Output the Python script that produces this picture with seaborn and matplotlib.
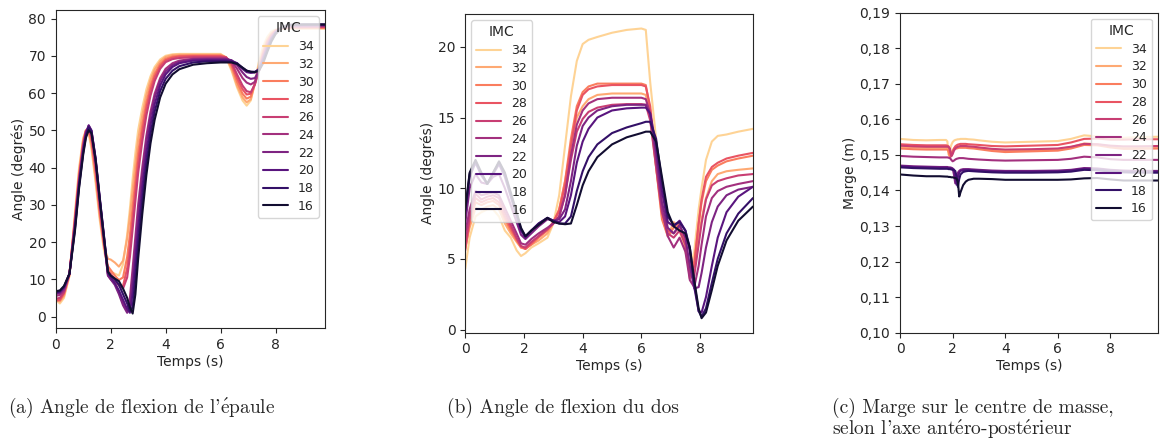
import matplotlib
matplotlib.use("Agg")
import matplotlib.pyplot as plt
from matplotlib.ticker import FuncFormatter, MultipleLocator
import seaborn as sns
import pandas as pd

# ---------------- data ----------------
IMC = ["34", "32", "30", "28", "26", "24", "22", "20", "18", "16"]

# (a) shoulder flexion angle (degrees)
T_A = [0, 0.15, 0.3, 0.5, 0.7, 0.85, 1.0, 1.1, 1.2, 1.3, 1.45, 1.6, 1.75, 1.9, 2.0, 2.15, 2.3, 2.45,
       2.6, 2.7, 2.8, 2.9, 3.0, 3.15, 3.3, 3.45, 3.6, 3.8, 4.0, 4.25, 4.5, 5.0, 5.5, 6.0, 6.2, 6.4,
       6.6, 6.8, 6.95, 7.1, 7.25, 7.4, 7.55, 7.7, 7.85, 8.0, 8.25, 8.5, 9.0, 9.8]
A34 = [4.5, 3.5, 5, 11, 28, 40, 48, 50, 49, 45, 36, 26, 18, 13, 12, 11.5, 11, 14, 22, 29, 37, 44, 50, 56,
       61, 64.5, 67, 69, 70, 70.4, 70.5, 70.5, 70.5, 70.5, 69.5, 66, 61.5, 58, 56.6, 58, 63, 68.5, 72.5,
       75, 76.5, 77, 77.3, 77.3, 77.3, 77.3]
A32 = [4.8, 4, 5.5, 11, 27, 39, 47.5, 50, 49.5, 46, 37, 27, 19, 15.5, 15.3, 14.5, 13.4, 15, 21, 27, 34,
       41, 47.5, 54, 59.5, 63.5, 66.3, 68.5, 69.7, 70.2, 70.3, 70.3, 70.3, 70.3, 69.6, 66.5, 62, 58.8,
       57.5, 58.3, 62.5, 67.5, 71.5, 74.3, 76, 76.8, 77.3, 77.4, 77.4, 77.4]
A30 = [4.5, 4.3, 6, 11.5, 26.5, 38, 47, 50, 50, 47, 38.5, 28, 19.5, 13.5, 12.5, 11, 9.8, 10.5, 16, 22,
       29.5, 37, 44, 51.5, 57.5, 62, 65.2, 67.8, 69.2, 69.8, 70, 70.1, 70.1, 70.1, 69.6, 67.2, 63, 59.8,
       58.5, 59, 62.5, 67, 71, 74, 75.8, 76.8, 77.4, 77.5, 77.5, 77.5]
A28 = [4.2, 4.5, 6.3, 11.5, 26, 37.5, 46.5, 49.8, 50.3, 47.8, 39.5, 29, 20, 12.5, 11.5, 10, 8.3, 8.2,
       13, 19, 26.5, 34, 41.5, 49.5, 56, 60.8, 64.3, 67.2, 68.8, 69.5, 69.8, 69.9, 69.9, 69.9, 69.6,
       67.8, 64, 61, 59.6, 59.8, 62.5, 66.5, 70.5, 73.5, 75.5, 76.7, 77.5, 77.7, 77.7, 77.7]
A26 = [4.8, 5, 6.5, 11.5, 25.5, 37, 46, 49.8, 50.6, 48.5, 40.5, 30, 20.5, 11.5, 10.5, 9.5, 8.5, 7.5,
       10.5, 16, 23.5, 31, 38.5, 47, 54, 59.3, 63.2, 66.5, 68.3, 69.1, 69.4, 69.6, 69.6, 69.6, 69.5,
       68.2, 65, 62, 60.5, 60.2, 62.3, 66, 70, 73, 75.2, 76.5, 77.5, 77.8, 77.8, 77.8]
A24 = [5.5, 5.8, 7, 11.5, 25, 36.5, 45.5, 49.5, 51, 49.3, 41.5, 31, 21, 11, 10, 8.8, 6.5, 3.5, 1.5, 5,
       13, 21.5, 30, 40, 48.5, 55, 59.8, 64, 66.5, 68, 68.7, 69.2, 69.3, 69.3, 69.3, 68.6, 66.5, 64,
       62.8, 62.3, 63, 66, 69.5, 72.5, 74.8, 76.3, 77.6, 78, 78, 78]
A22 = [6, 6.3, 7.5, 11.5, 24.5, 36, 45, 49.3, 51.3, 49.8, 42, 31.5, 21.5, 11, 10, 8.5, 6, 3, 1, 3,
       10.5, 19, 27.5, 38, 47, 53.8, 58.8, 63.2, 65.8, 67.5, 68.4, 69, 69.1, 69.1, 69.1, 68.8, 67.5,
       65.5, 64.3, 63.8, 64, 66, 69.3, 72.3, 74.7, 76.3, 77.7, 78.1, 78.2, 78.2]
A20 = [6.3, 6.6, 7.8, 11.5, 24, 35.5, 44.5, 49, 51.3, 50, 42.5, 32, 22, 11.5, 10.5, 9, 7, 4.5, 2, 1,
       6.5, 15, 23.5, 34.5, 44, 51.5, 57, 62, 65, 67, 68, 68.7, 68.8, 68.8, 68.8, 68.7, 68, 66.5, 65.6,
       65.4, 65.5, 66.5, 69, 72, 74.5, 76.2, 77.8, 78.2, 78.3, 78.3]
A18 = [6.5, 6.8, 8, 11.5, 23.5, 35, 44, 48.5, 50.8, 49.8, 42.5, 32, 22, 12, 11, 10, 8.5, 6, 3.5, 1.5,
       2.5, 10.5, 19.5, 31, 41, 49, 55, 60.5, 63.8, 66, 67.2, 68.2, 68.5, 68.5, 68.5, 68.4, 68, 66.8, 66,
       65.7, 65.7, 66.3, 68.5, 71.5, 74.2, 76, 77.8, 78.3, 78.4, 78.4]
A16 = [6.8, 7, 8.2, 11.5, 23, 34.5, 43.5, 48, 50, 49.2, 42, 31.5, 21.5, 12, 11, 10.2, 9.5, 7.5, 5, 2.5,
       0.8, 6, 15.5, 27.5, 38, 46.5, 52.8, 58.8, 62.5, 65, 66.4, 67.6, 68, 68.2, 68.2, 68.2, 67.8, 66.8,
       66, 65.7, 65.6, 66, 68, 71, 73.8, 75.8, 77.7, 78.3, 78.4, 78.4]

# (b) back flexion angle (degrees)
T_B = [0, 0.15, 0.35, 0.55, 0.75, 0.95, 1.15, 1.35, 1.55, 1.75, 1.9, 2.05, 2.25, 2.5, 2.8, 3.0, 3.2,
       3.4, 3.6, 3.8, 4.0, 4.2, 4.5, 5.0, 5.5, 6.0, 6.15, 6.3, 6.5, 6.7, 6.9, 7.1, 7.3, 7.5, 7.65, 7.8,
       7.95, 8.05, 8.2, 8.4, 8.6, 8.9, 9.3, 9.8]
B34 = [4.3, 6.5, 8.0, 8.3, 8.5, 8.5, 8.0, 7.0, 6.5, 5.6, 5.2, 5.4, 5.8, 6.1, 6.5, 7.5, 9.5, 13, 16.5,
       19, 20.2, 20.5, 20.7, 21.0, 21.2, 21.3, 21.2, 17.5, 13.5, 9.5, 7.5, 7.5, 7.0, 5.5, 4.2, 5.5, 8.5,
       10.0, 12.0, 13.3, 13.7, 13.8, 14.0, 14.2]
B32 = [5.8, 7.2, 8.6, 8.5, 8.7, 8.8, 8.5, 7.5, 6.8, 6.2, 5.8, 5.8, 6.0, 6.3, 6.8, 7.5, 8.5, 10.5, 13.0,
       15.0, 15.8, 16.3, 16.6, 16.7, 16.7, 16.7, 16.6, 15.0, 11.5, 8.0, 6.6, 7.6, 7.2, 5.8, 4.2, 4.5,
       6.5, 7.8, 9.3, 10.5, 11.0, 11.2, 11.3, 11.4]
B30 = [5.7, 7.5, 9.0, 8.8, 9.0, 9.1, 8.8, 7.8, 7.0, 6.3, 5.8, 5.7, 6.0, 6.5, 7.0, 7.6, 8.5, 10.5, 13.5,
       15.8, 16.8, 17.2, 17.4, 17.4, 17.4, 17.4, 17.3, 15.5, 11.5, 7.8, 6.6, 7.2, 7.5, 6.0, 4.0, 4.8,
       7.5, 9.0, 10.5, 11.3, 11.6, 11.9, 12.1, 12.3]
B28 = [5.6, 7.8, 9.3, 9.0, 9.2, 9.3, 9.0, 8.0, 7.2, 6.4, 5.9, 5.7, 6.1, 6.6, 7.1, 7.6, 8.4, 10.2, 13.0,
       15.5, 16.6, 17.0, 17.2, 17.3, 17.3, 17.3, 17.2, 15.8, 12.0, 8.3, 7.0, 6.8, 7.3, 6.3, 3.6, 4.5,
       7.5, 9.2, 10.8, 11.5, 11.8, 12.1, 12.3, 12.5]
B26 = [6.0, 8.0, 9.6, 9.2, 9.4, 9.5, 9.3, 8.3, 7.4, 6.5, 5.9, 5.8, 6.2, 6.6, 7.1, 7.5, 8.0, 9.5, 12.0,
       14.0, 14.9, 15.4, 15.7, 15.9, 15.95, 15.95, 15.9, 14.8, 11.5, 8.3, 6.8, 6.5, 7.0, 6.0, 3.8, 3.8,
       6.0, 7.5, 9.2, 10.2, 10.5, 10.7, 10.9, 11.0]
B24 = [6.8, 8.5, 9.8, 9.5, 9.6, 9.7, 9.5, 8.6, 7.7, 6.8, 6.1, 6.0, 6.4, 6.8, 7.2, 7.5, 8.0, 9.5, 12.3,
       14.5, 15.5, 16.0, 16.3, 16.4, 16.4, 16.4, 16.3, 15.3, 12.0, 8.5, 6.6, 5.8, 6.5, 5.5, 3.5, 3.0,
       4.5, 6.0, 8.0, 9.3, 9.8, 10.1, 10.3, 10.5]
B22 = [7.5, 10.0, 11.0, 10.4, 10.3, 10.8, 11.0, 10.0, 8.8, 7.6, 6.7, 6.4, 6.8, 7.3, 7.8, 7.7, 7.8, 8.5,
       10.5, 13.0, 14.4, 15.0, 15.5, 15.8, 15.9, 15.9, 15.9, 15.2, 12.5, 9.0, 7.2, 6.8, 7.4, 6.5, 4.5,
       2.9, 3.0, 4.0, 5.8, 7.6, 8.7, 9.5, 9.9, 10.1]
B20 = [8.2, 10.8, 11.8, 10.9, 10.3, 11.0, 11.7, 10.8, 9.4, 8.0, 7.0, 6.5, 7.0, 7.5, 7.9, 7.7, 7.6, 8.0,
       9.5, 11.8, 13.3, 14.2, 15.0, 15.5, 15.65, 15.7, 15.7, 15.3, 13.0, 9.8, 7.6, 7.3, 7.7, 7.0, 5.5,
       3.0, 1.3, 1.2, 2.3, 4.5, 6.5, 8.3, 9.4, 10.1]
B18 = [8.4, 11.0, 11.9, 11.0, 10.3, 11.1, 11.8, 11.0, 9.6, 8.2, 7.1, 6.6, 7.0, 7.5, 7.9, 7.7, 7.5, 7.5,
       8.0, 9.8, 11.2, 12.2, 13.1, 13.9, 14.3, 14.6, 14.7, 14.7, 13.5, 10.5, 8.0, 7.4, 7.6, 7.0, 5.8,
       3.3, 1.3, 0.9, 1.5, 3.3, 5.0, 6.8, 8.2, 9.3]
B16 = [8.5, 11.1, 12.0, 11.1, 10.3, 11.1, 11.9, 11.1, 9.7, 8.3, 7.2, 6.6, 7.0, 7.4, 7.9, 7.6, 7.5, 7.45,
       7.5, 8.8, 10.2, 11.2, 12.2, 13.1, 13.6, 13.9, 14.0, 14.0, 13.3, 10.8, 8.3, 7.3, 7.0, 6.8, 5.8,
       3.5, 1.5, 0.8, 1.2, 2.8, 4.5, 6.3, 7.7, 8.7]

# (c) margin on centre of mass, antero-posterior axis (m)
T_C = [0, 0.5, 1.0, 1.5, 1.75, 1.8, 1.85, 1.9, 1.95, 2.0, 2.05, 2.1, 2.15, 2.2, 2.25, 2.3, 2.4, 2.5,
       2.6, 2.8, 3.0, 3.5, 4.0, 5.0, 6.0, 6.5, 7.0, 7.5, 8.0, 8.5, 9.0, 9.8]
C34 = [0.1545, 0.1542, 0.1541, 0.1542, 0.1542, 0.1538, 0.1500, 0.1515, 0.1528, 0.1536, 0.1540, 0.1542,
       0.1543, 0.1544, 0.1544, 0.1545, 0.1545, 0.1545, 0.1544, 0.1543, 0.1541, 0.1537, 0.1535, 0.1537,
       0.1539, 0.1545, 0.1555, 0.1552, 0.1548, 0.1548, 0.1550, 0.1551]
C32 = [0.1523, 0.1521, 0.1520, 0.1520, 0.1520, 0.1519, 0.1505, 0.1494, 0.1505, 0.1513, 0.1518, 0.1521,
       0.1522, 0.1523, 0.1524, 0.1524, 0.1524, 0.1524, 0.1523, 0.1522, 0.1520, 0.1515, 0.1512, 0.1514,
       0.1516, 0.1522, 0.1532, 0.1530, 0.1524, 0.1521, 0.1522, 0.1523]
C30 = [0.1518, 0.1516, 0.1515, 0.1515, 0.1515, 0.1515, 0.1510, 0.1493, 0.1500, 0.1509, 0.1514, 0.1517,
       0.1518, 0.1519, 0.1520, 0.1520, 0.1520, 0.1520, 0.1519, 0.1518, 0.1516, 0.1511, 0.1508, 0.1510,
       0.1512, 0.1518, 0.1528, 0.1527, 0.1521, 0.1517, 0.1517, 0.1518]
C28 = [0.1530, 0.1528, 0.1527, 0.1527, 0.1527, 0.1526, 0.1524, 0.1510, 0.1498, 0.1508, 0.1518, 0.1524,
       0.1527, 0.1529, 0.1530, 0.1531, 0.1531, 0.1531, 0.1530, 0.1529, 0.1528, 0.1525, 0.1524, 0.1526,
       0.1528, 0.1535, 0.1545, 0.1546, 0.1543, 0.1543, 0.1544, 0.1544]
C26 = [0.1526, 0.1524, 0.1523, 0.1523, 0.1523, 0.1523, 0.1522, 0.1518, 0.1496, 0.1502, 0.1512, 0.1518,
       0.1521, 0.1523, 0.1524, 0.1525, 0.1525, 0.1525, 0.1524, 0.1523, 0.1521, 0.1517, 0.1515, 0.1516,
       0.1518, 0.1523, 0.1531, 0.1530, 0.1526, 0.1524, 0.1524, 0.1525]
C24 = [0.1497, 0.1495, 0.1494, 0.1493, 0.1493, 0.1493, 0.1492, 0.1491, 0.1486, 0.1482, 0.1484, 0.1487,
       0.1489, 0.1490, 0.1491, 0.1491, 0.1491, 0.1490, 0.1489, 0.1488, 0.1487, 0.1485, 0.1484, 0.1485,
       0.1486, 0.1489, 0.1495, 0.1493, 0.1488, 0.1486, 0.1486, 0.1486]
C22 = [0.1470, 0.1468, 0.1467, 0.1466, 0.1466, 0.1466, 0.1465, 0.1465, 0.1464, 0.1462, 0.1445, 0.1420,
       0.1438, 0.1450, 0.1455, 0.1458, 0.1460, 0.1460, 0.1460, 0.1459, 0.1458, 0.1456, 0.1455, 0.1455,
       0.1456, 0.1458, 0.1463, 0.1462, 0.1458, 0.1456, 0.1455, 0.1455]
C20 = [0.1468, 0.1466, 0.1465, 0.1464, 0.1464, 0.1464, 0.1463, 0.1463, 0.1462, 0.1461, 0.1459, 0.1440,
       0.1416, 0.1438, 0.1450, 0.1455, 0.1457, 0.1458, 0.1458, 0.1457, 0.1456, 0.1454, 0.1453, 0.1453,
       0.1454, 0.1456, 0.1461, 0.1460, 0.1456, 0.1454, 0.1453, 0.1453]
C18 = [0.1465, 0.1463, 0.1462, 0.1461, 0.1461, 0.1461, 0.1460, 0.1460, 0.1459, 0.1458, 0.1457, 0.1455,
       0.1440, 0.1410, 0.1432, 0.1445, 0.1452, 0.1454, 0.1455, 0.1454, 0.1453, 0.1451, 0.1450, 0.1450,
       0.1451, 0.1453, 0.1458, 0.1457, 0.1453, 0.1451, 0.1450, 0.1450]
C16 = [0.1445, 0.1442, 0.1440, 0.1440, 0.1439, 0.1439, 0.1438, 0.1438, 0.1437, 0.1437, 0.1436, 0.1435,
       0.1433, 0.1425, 0.1383, 0.1395, 0.1415, 0.1425, 0.1430, 0.1433, 0.1433, 0.1432, 0.1430, 0.1430,
       0.1430, 0.1431, 0.1434, 0.1435, 0.1431, 0.1428, 0.1428, 0.1428]

CAPTION_A = r"(a) Angle de flexion de l'$\mathrm{\acute{e}}$paule"
CAPTION_B = "(b) Angle de flexion du dos"
CAPTION_C1 = "(c) Marge sur le centre de masse,"
CAPTION_C2 = r"selon l'axe ant$\mathrm{\acute{e}}$ro-post$\mathrm{\acute{e}}$rieur"
YLABELS = ["Angle (degrés)", "Angle (degrés)", "Marge (m)"]
XLABEL = "Temps (s)"


def long_form(t, series):
    rows = []
    for lab, vals in zip(IMC, series):
        for x, y in zip(t, vals):
            rows.append({"Temps": x, "Valeur": y, "IMC": lab})
    return pd.DataFrame(rows)


df_a = long_form(T_A, [A34, A32, A30, A28, A26, A24, A22, A20, A18, A16])
df_b = long_form(T_B, [B34, B32, B30, B28, B26, B24, B22, B20, B18, B16])
df_c = long_form(T_C, [C34, C32, C30, C28, C26, C24, C22, C20, C18, C16])

# ---------------- style ----------------
sns.set_style("ticks")
plt.rcParams["font.family"] = ["DejaVu Sans"]
plt.rcParams["xtick.labelsize"] = 10
plt.rcParams["ytick.labelsize"] = 10
plt.rcParams["axes.labelsize"] = 10
plt.rcParams["mathtext.fontset"] = "cm"

pal_list = sns.color_palette("magma", len(IMC))[::-1]
palette = dict(zip(IMC, pal_list))

fig = plt.figure(figsize=(11.71, 4.45), dpi=100)
ax_a = fig.add_axes([0.0476, 0.2629, 0.2299, 0.7146])
ax_b = fig.add_axes([0.3973, 0.2524, 0.2457, 0.7161])
ax_c = fig.add_axes([0.7686, 0.2524, 0.2201, 0.7191])

for ax, df in zip([ax_a, ax_b, ax_c], [df_a, df_b, df_c]):
    sns.lineplot(data=df, x="Temps", y="Valeur", hue="IMC", hue_order=IMC,
                 palette=palette, estimator=None, sort=False, linewidth=1.5, ax=ax)
    ax.set_xlim(0, 9.8)
    ax.xaxis.set_major_locator(MultipleLocator(2))
    ax.set_xlabel(XLABEL, labelpad=2)

ax_a.set_ylabel(YLABELS[0], labelpad=2)
ax_b.set_ylabel(YLABELS[1], labelpad=2)
ax_c.set_ylabel(YLABELS[2], labelpad=2)

ax_a.yaxis.set_major_locator(MultipleLocator(10))
ax_b.yaxis.set_major_locator(MultipleLocator(5))
ax_c.set_ylim(0.10, 0.19)
ax_c.yaxis.set_major_locator(MultipleLocator(0.01))
ax_c.yaxis.set_major_formatter(FuncFormatter(lambda v, p: f"{v:.2f}".replace(".", ",")))

leg_kw = dict(fontsize=9, title_fontsize=10, title="IMC", labelspacing=0.38)
sns.move_legend(ax_a, "upper right", **leg_kw)
sns.move_legend(ax_b, "upper left", **leg_kw)
sns.move_legend(ax_c, "upper right", **leg_kw)

cap_font = ["cmr10", "DejaVu Serif"]
cap_size = 14
fig.text(0.0068, 0.083, CAPTION_A, family=cap_font, fontsize=cap_size, va="center", ha="left")
fig.text(0.3817, 0.083, CAPTION_B, family=cap_font, fontsize=cap_size, va="center", ha="left")
fig.text(0.7105, 0.083, CAPTION_C1, family=cap_font, fontsize=cap_size, va="center", ha="left")
fig.text(0.7105, 0.036, CAPTION_C2, family=cap_font, fontsize=cap_size, va="center", ha="left")

fig.savefig("out.png", dpi=100)
